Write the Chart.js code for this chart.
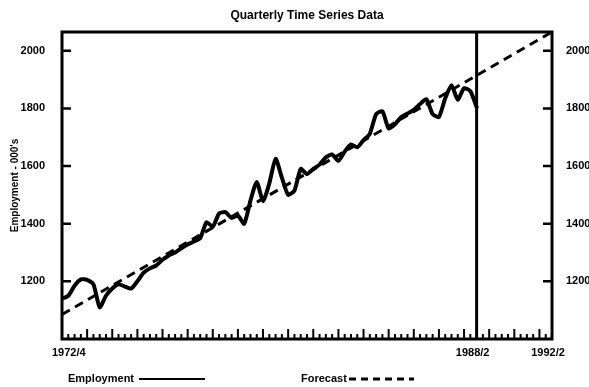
<!DOCTYPE html>
<html>
<head>
<meta charset="utf-8">
<script src="https://cdn.jsdelivr.net/npm/chart.js@4/dist/chart.umd.min.js"></script>
<style>
  html, body { margin: 0; padding: 0; background: #fff; }
</style>
</head>
<body>
<canvas id="chart" width="589" height="387"></canvas>
<script>
// Quarterly employment ('000s), one value per quarter starting 1972/4
const employment = [
    1140, 1150, 1185, 1207, 1205, 1190, 1110, 1150, 1175, 1190,
    1182, 1175, 1200, 1230, 1245, 1255, 1275, 1290, 1300, 1315,
    1328, 1338, 1350, 1405, 1390, 1435, 1440, 1420, 1428, 1400,
    1480, 1545, 1478, 1540, 1625, 1560, 1500, 1515, 1590, 1572,
    1590, 1605, 1630, 1640, 1618, 1650, 1675, 1665, 1690, 1712,
    1780, 1790, 1730, 1745, 1770, 1782, 1795, 1815, 1832, 1780,
    1770, 1835, 1880, 1830, 1870, 1860, 1805
];

// Forecast trend line: quarter index and value at its two ends
const forecastQ = [0, 78];
const forecastVals = [1085, 2065];

// x-axis labels (quarter index -> label) and y ticks
const xTickQ = [0, 66, 78];
const xTickLabels = ['1972/4', '1988/2', '1992/2'];
const yTicks = [1200, 1400, 1600, 1800, 2000];
const splitQ = 66; // end of actual data

const FONT = "'Liberation Sans', Arial, sans-serif";

const framePlugin = {
    id: 'frame',
    afterDatasetsDraw(chart) {
        const { ctx, chartArea: a, scales } = chart;
        const x = scales.x, y = scales.y;
        ctx.save();
        ctx.strokeStyle = '#000';
        ctx.lineCap = 'butt';

        // y ticks, pointing inward on both sides
        ctx.lineWidth = 2.5;
        yTicks.forEach(v => {
            const py = y.getPixelForValue(v);
            ctx.beginPath();
            ctx.moveTo(a.left, py); ctx.lineTo(a.left + 9, py);
            ctx.moveTo(a.right, py); ctx.lineTo(a.right - 9, py);
            ctx.stroke();
        });

        // quarterly x ticks, yearly ones taller
        ctx.lineWidth = 2;
        for (let q = 0; q <= 78; q++) {
            const px = x.getPixelForValue(q);
            const len = q % 4 === 0 ? 10 : 5;
            ctx.beginPath();
            ctx.moveTo(px, a.bottom); ctx.lineTo(px, a.bottom - len);
            ctx.stroke();
        }

        // split between data and forecast
        ctx.lineWidth = 3;
        const sx = x.getPixelForValue(splitQ);
        ctx.beginPath();
        ctx.moveTo(sx, a.top); ctx.lineTo(sx, a.bottom);
        ctx.stroke();

        // box
        ctx.lineWidth = 3;
        ctx.strokeRect(a.left, a.top, a.right - a.left, a.bottom - a.top);
        ctx.restore();
    },
    afterDraw(chart) {
        const { ctx, chartArea: a, scales } = chart;
        const x = scales.x;
        ctx.save();
        ctx.fillStyle = '#000';
        ctx.textBaseline = 'middle';

        // title, centred over the plot box
        ctx.font = 'bold 12px ' + FONT;
        ctx.textAlign = 'center';
        ctx.fillText('Quarterly Time Series Data', (a.left + a.right) / 2, 16);

        ctx.font = 'bold 11px ' + FONT;
        xTickQ.forEach((q, i) => {
            const px = x.getPixelForValue(q);
            ctx.textAlign = i === 0 ? 'left' : 'center';
            ctx.fillText(xTickLabels[i], i === 0 ? px - 10 : px - 4, a.bottom + 14);
        });

        // legend: text first, then line sample
        ctx.textAlign = 'left';
        ctx.fillText('Employment', 68, 379);
        ctx.fillText('Forecast', 301, 379);
        ctx.strokeStyle = '#000';
        ctx.lineWidth = 2;
        ctx.beginPath();
        ctx.moveTo(139, 379); ctx.lineTo(205, 379);
        ctx.stroke();
        ctx.lineWidth = 3;
        ctx.setLineDash([7, 5]);
        ctx.beginPath();
        ctx.moveTo(349, 379); ctx.lineTo(414, 379);
        ctx.stroke();
        ctx.restore();
    }
};

const tickFont = { family: FONT, size: 11, weight: 'bold' };
const plainNum = v => String(v);

new Chart(document.getElementById('chart').getContext('2d'), {
    type: 'line',
    data: {
        datasets: [
            {
                label: 'Employment',
                data: employment.map((v, i) => ({ x: i, y: v })),
                borderColor: '#000',
                borderWidth: 4,
                pointRadius: 0,
                tension: 0.2,
                borderJoinStyle: 'round',
                borderCapStyle: 'round'
            },
            {
                label: 'Forecast',
                data: forecastQ.map((q, i) => ({ x: q, y: forecastVals[i] })),
                borderColor: '#000',
                borderWidth: 3,
                borderDash: [9, 6],
                pointRadius: 0
            }
        ]
    },
    options: {
        responsive: false,
        animation: false,
        devicePixelRatio: 1,
        layout: { padding: { top: 32, left: 9 } },
        plugins: {
            legend: { display: false },
            tooltip: { enabled: false },
            title: { display: false }
        },
        scales: {
            x: {
                type: 'linear',
                min: 0,
                max: 78,
                grid: { display: false },
                border: { display: false },
                ticks: { display: false },
                afterFit: s => { s.height = 48; }
            },
            y: {
                position: 'left',
                min: 1000,
                max: 2065,
                grid: { display: false },
                border: { display: false },
                afterBuildTicks: s => { s.ticks = yTicks.map(v => ({ value: v })); },
                ticks: { color: '#000', font: tickFont, padding: 9, callback: plainNum },
                title: {
                    display: true,
                    text: "Employment - 000's",
                    color: '#000',
                    font: { family: FONT, size: 10, weight: 'bold' },
                    padding: 0
                },
                afterFit: s => { s.width = 53; }
            },
            y2: {
                position: 'right',
                min: 1000,
                max: 2065,
                grid: { display: false },
                border: { display: false },
                afterBuildTicks: s => { s.ticks = yTicks.map(v => ({ value: v })); },
                ticks: { color: '#000', font: tickFont, padding: 6, callback: plainNum },
                afterFit: s => { s.width = 37; }
            }
        }
    },
    plugins: [framePlugin]
});
</script>
</body>
</html>
